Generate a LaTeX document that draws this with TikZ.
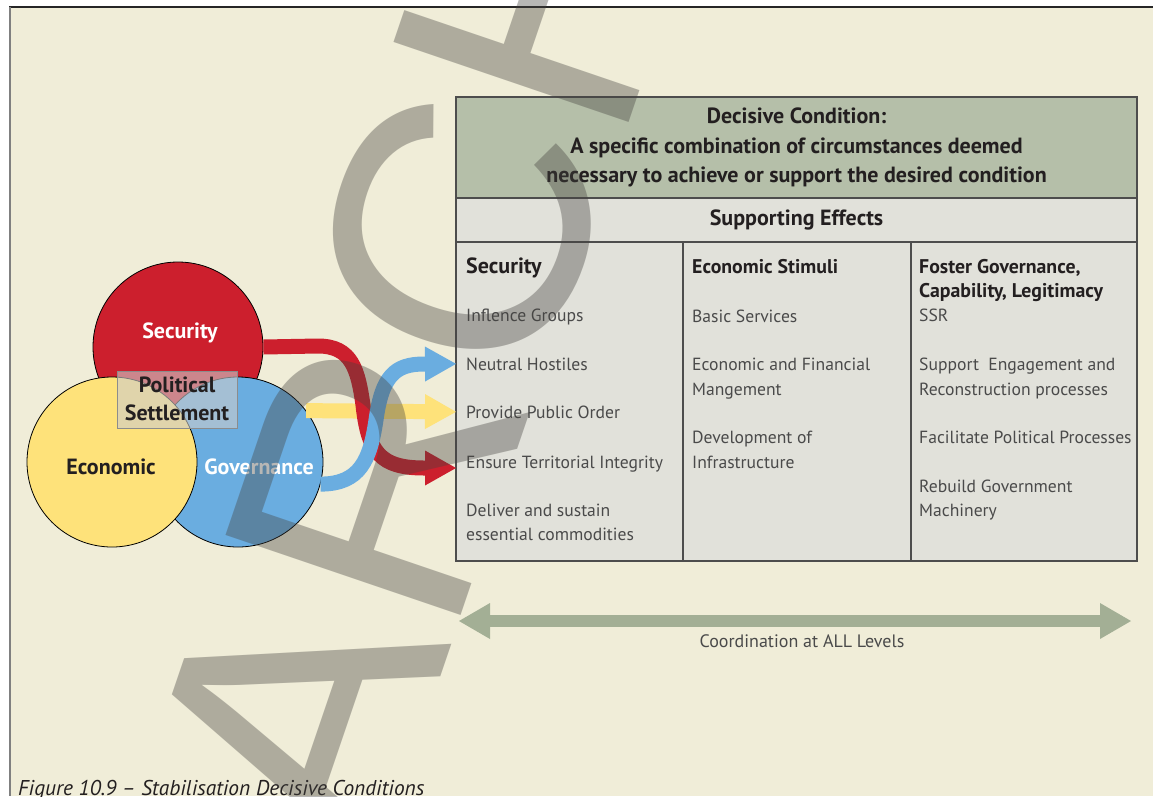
\documentclass[tikz,border=0pt]{standalone}
\usepackage{fontspec}
\setmainfont{PT Sans}
\newfontfamily\stampfont{Liberation Sans}
\usetikzlibrary{arrows.meta, positioning}

\definecolor{paper}{HTML}{F0EDD8}
\definecolor{secred}{HTML}{CC1F2D}
\definecolor{ecoyellow}{HTML}{FEE27A}
\definecolor{govblue}{HTML}{6AADE0}
\definecolor{headgreen}{HTML}{B5BFA9}
\definecolor{rowgray}{HTML}{E1E1DA}
\definecolor{cellline}{HTML}{4D4D4D}
\definecolor{sage}{HTML}{A3AF95}
\definecolor{inkgray}{HTML}{4A4A4A}
\definecolor{inkdark}{HTML}{231F20}
\definecolor{stampgray}{HTML}{44423F}

\tikzset{
  venn/.style={circle, draw=black, line width=0.8pt, minimum size=170pt,
    inner sep=0pt}, % the three overlapping circles
  venntext/.style={font=\bfseries\fontsize{22}{28}\selectfont},
  cell/.style={draw=cellline, line width=1.6pt, inner sep=0pt,
    outer sep=0pt}, % one box of the table
  headtext/.style={font=\bfseries\fontsize{22}{29.5}\selectfont,
    text=inkdark, align=center},
  colhead/.style={anchor=base west, inner sep=0pt, text=inkdark,
    font=\bfseries\fontsize{19.8}{24}\selectfont},
  item/.style={anchor=base west, inner xsep=10pt, inner ysep=0pt,
    text=inkgray, font=\fontsize{17.6}{24}\selectfont}, % one effect
  flow/.style={line width=15pt,
    -{Triangle[length=31pt, width=35pt, line width=0pt]}},
  stamp/.style={inner sep=0pt, text=stampgray, text opacity=0.38,
    font=\stampfont\fontsize{361}{361}\selectfont},
}

\begin{document}
\begin{tikzpicture}[x=1pt, y=-1pt]
  \useasboundingbox (0,0) rectangle (1153,796);
  \fill[white] (0,0) rectangle (1153,796);
  \fill[paper] (9,7) rectangle (1153,796);
  \draw[line width=1.5pt, black!85] (9,7) -- (1153,7);
  \draw[line width=2pt, black!50] (9.5,7) -- (9.5,796);

  % table
  \node[cell, fill=headgreen, minimum width=681pt, minimum height=101pt,
    anchor=north west, headtext] (head) at (456,97)
    {Decisive Condition:\\A specific combination of circumstances deemed\\
     necessary to achieve or support the desired condition};
  \node[cell, fill=rowgray, minimum width=681pt, minimum height=44pt,
    below=0pt of head, headtext] (effects) {Supporting Effects};
  \node[cell, fill=rowgray, minimum width=227pt, minimum height=319pt,
    below right=0pt and 0pt of effects.south west] (colsec) {};
  \node[cell, fill=rowgray, minimum width=228pt, minimum height=319pt,
    right=0pt of colsec] (coleco) {};
  \node[cell, fill=rowgray, minimum width=226pt, minimum height=319pt,
    right=0pt of coleco] (colgov) {};

  \node[colhead, font=\bfseries\fontsize{22}{24}\selectfont] (sechead)
    at (466,273) {Security};
  \node[item] (influence) at (456,321) {Inflence Groups};
  \node[item] (neutral) at (456,370) {Neutral Hostiles};
  \node[item] (order) at (456,418) {Provide Public Order};
  \node[item] (territory) at (456,468) {Ensure Territorial Integrity};
  \node[item] (deliver) at (456,516) {Deliver and sustain};
  \node[item] (deliver2) at (456,540) {essential commodities};

  \node[colhead] (ecohead) at (692,273) {Economic Stimuli};
  \node[item] (basic) at (682,322) {Basic Services};
  \node[item] (finance) at (682,370) {Economic and Financial};
  \node[item] (finance2) at (682,395) {Mangement};
  \node[item] (infra) at (682,443) {Development of};
  \node[item] (infra2) at (682,468) {Infrastructure};

  \node[colhead] (govhead) at (919,273) {Foster Governance,};
  \node[colhead] (govhead2) at (919,297) {Capability, Legitimacy};
  \node[item] (ssr) at (909,321) {SSR};
  \node[item] (support) at (909,370) {Support\ \ Engagement and};
  \node[item] (support2) at (909,395) {Reconstruction processes};
  \node[item] (politic) at (909,443) {Facilitate Political Processes};
  \node[item] (rebuild) at (909,492) {Rebuild Government};
  \node[item] (rebuild2) at (909,516) {Machinery};

  % the three lines of effort
  \node[venn, fill=secred] (sec) at (178,347) {};
  \node[venn, fill=govblue] (gov) at (238,462) {};
  \node[venn, fill=ecoyellow] (eco) at (112,462) {};
  \node[draw=black!45, line width=1pt, fill=black!20, fill opacity=0.6,
    minimum width=120pt, minimum height=57pt] (settle) at (177,399.5) {};
  \node[venntext, white] (sectext) at (180,333) {Security};
  \node[venntext, text=inkdark] (ecotext) at (111,467) {Economic};
  \node[venntext, white] (govtext) at (259,467) {Governance};
  \node[venntext, text=inkdark, align=center] (settletext)
    at (177,399) {Political\\Settlement};

  \draw[flow, ecoyellow] (gov.37) -- (order.west);
  \draw[flow, secred] (sec.east) -- (318,346)
    .. controls (352,346) and (358,370) .. (363,405)
    .. controls (368,452) and (380,468) .. (424,468) -- (territory.base west);
  \draw[flow, govblue] (gov.-15) .. controls (360,484) and (370,460) .. (376,420)
    .. controls (382,376) and (395,364) .. (424,364) -- (neutral.west);

  % coordination
  \coordinate (coordleft) at (459,621);
  \coordinate (coordright) at (1131,621);
  \draw[sage, line width=12pt,
    {Triangle[length=31pt, width=36pt, line width=0pt]}-{Triangle[length=31pt, width=36pt, line width=0pt]}]
    (coordleft) -- (coordright);
  \node[anchor=base, inner sep=0pt, text=inkgray,
    font=\fontsize{18}{24}\selectfont] (coordtext) at (802,647)
    {Coordination at ALL Levels};

  \node[anchor=base west, inner sep=0pt, text=inkdark,
    font=\itshape\fontsize{21.4}{24}\selectfont] (caption) at (18,795)
    {Figure 10.9 -- Stabilisation Decisive Conditions};

  % watermark
  \begin{scope}
    \clip (0,0) rectangle (1153,796);
    \node[stamp, rotate=71.2, anchor=base west] (stampword) at (374,872) {ARCH};
  \end{scope}
\end{tikzpicture}
\end{document}
